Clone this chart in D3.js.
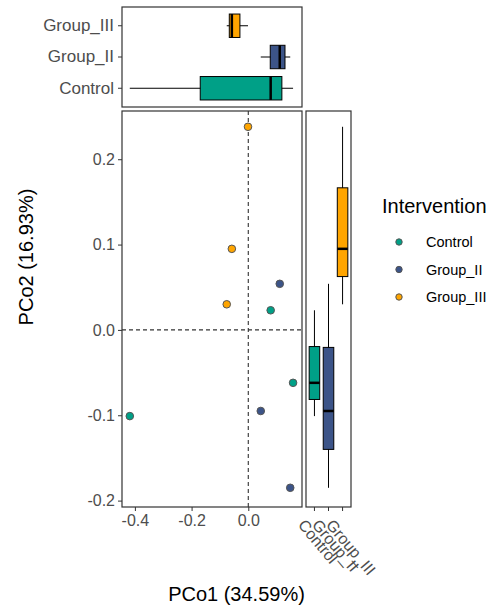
<!DOCTYPE html>
<html>
<head>
<meta charset="utf-8">
<script src="https://cdn.jsdelivr.net/npm/d3@7"></script>
<style>
  body { margin: 0; background: #fff; }
  svg { font-family: "Liberation Sans", Arial, sans-serif; }
</style>
</head>
<body>
<script>
// groups and colours
var groups = ["Control", "Group_II", "Group_III"];
var colors = ["#00A087", "#3C5488", "#FFA500"];

// PCoA coordinates
var sampleGroup = ["Control", "Control", "Control", "Group_II", "Group_II", "Group_II", "Group_III", "Group_III", "Group_III"];
var pco1 = [-0.418, 0.079, 0.158, 0.044, 0.111, 0.148, -0.001, -0.058, -0.076];
var pco2 = [-0.101, 0.023, -0.062, -0.095, 0.054, -0.185, 0.238, 0.095, 0.030];

var xTicks = [-0.4, -0.2, 0.0];
var yTicks = [-0.2, -0.1, 0.0, 0.1, 0.2];

var data = sampleGroup.map(function(g, i) { return {group: g, x: pco1[i], y: pco2[i]}; });

var color = d3.scaleOrdinal().domain(groups).range(colors);

var svg = d3.select("body").append("svg")
    .attr("width", 497)
    .attr("height", 610);

// panel geometry
var main = {left: 122, right: 302, top: 111, bottom: 507};
var topP = {left: 122, right: 302, top: 7, bottom: 107};
var side = {left: 306, right: 351, top: 111, bottom: 507};

// scales
var x = d3.scaleLinear().domain([-0.4455, 0.1895]).range([main.left, main.right]);
var y = d3.scaleLinear().domain([-0.2075, 0.2565]).range([main.bottom, main.top]);
var yTop = d3.scaleBand().domain(groups.slice().reverse()).range([topP.top, topP.bottom]).paddingOuter(0.1);
var xSide = d3.scaleBand().domain(groups).range([side.left, side.right]).paddingOuter(0.1);

function stats(vals) {
  vals = vals.slice().sort(d3.ascending);
  return {
    min: vals[0], max: vals[vals.length - 1],
    q1: d3.quantile(vals, 0.25), med: d3.quantile(vals, 0.5), q3: d3.quantile(vals, 0.75)
  };
}

var tickColor = "#4D4D4D";
var borderColor = "#333333";

// ---- main scatter panel ----
var gMain = svg.append("g");
gMain.append("line")
    .attr("x1", x(0)).attr("x2", x(0))
    .attr("y1", main.top).attr("y2", main.bottom)
    .attr("stroke", "#333").attr("stroke-dasharray", "4,3").attr("stroke-width", 1.1);
gMain.append("line")
    .attr("x1", main.left).attr("x2", main.right)
    .attr("y1", y(0)).attr("y2", y(0))
    .attr("stroke", "#333").attr("stroke-dasharray", "4,3").attr("stroke-width", 1.1);

gMain.selectAll("circle")
    .data(data)
  .enter().append("circle")
    .attr("cx", function(d) { return x(d.x); })
    .attr("cy", function(d) { return y(d.y); })
    .attr("r", 3.8)
    .attr("fill", function(d) { return color(d.group); })
    .attr("stroke", "#555")
    .attr("stroke-width", 1);

// x axis
var xAxis = svg.append("g")
    .attr("transform", "translate(0," + main.bottom + ")")
    .call(d3.axisBottom(x).tickValues(xTicks).tickSize(4).tickPadding(4).tickFormat(d3.format(".1f")));
// y axis
var yAxis = svg.append("g")
    .attr("transform", "translate(" + main.left + ",0)")
    .call(d3.axisLeft(y).tickValues(yTicks).tickSize(4).tickPadding(3).tickFormat(d3.format(".1f")));

[xAxis, yAxis].forEach(function(a) {
  a.select(".domain").remove();
  a.selectAll("line").attr("stroke", borderColor);
  a.selectAll("text").attr("fill", tickColor).style("font-size", "16px")
      .text(function(d) { return d3.format(".1f")(d).replace("−", "-"); });
});

svg.append("rect")
    .attr("x", main.left).attr("y", main.top)
    .attr("width", main.right - main.left).attr("height", main.bottom - main.top)
    .attr("fill", "none").attr("stroke", borderColor).attr("stroke-width", 1.2);

// ---- top boxplot (PCo1) ----
var gTop = svg.append("g");
groups.forEach(function(g) {
  var s = stats(data.filter(function(d) { return d.group === g; }).map(function(d) { return d.x; }));
  var cy = yTop(g) + yTop.bandwidth() / 2;
  var h = yTop.bandwidth() * 0.75;
  gTop.append("line")
      .attr("x1", x(s.min)).attr("x2", x(s.max)).attr("y1", cy).attr("y2", cy)
      .attr("stroke", "#000").attr("stroke-width", 1);
  gTop.append("rect")
      .attr("x", x(s.q1)).attr("y", cy - h / 2)
      .attr("width", x(s.q3) - x(s.q1)).attr("height", h)
      .attr("fill", color(g)).attr("stroke", "#000").attr("stroke-width", 1);
  gTop.append("line")
      .attr("x1", x(s.med)).attr("x2", x(s.med)).attr("y1", cy - h / 2).attr("y2", cy + h / 2)
      .attr("stroke", "#000").attr("stroke-width", 2.5);
});
var topAxis = svg.append("g")
    .attr("transform", "translate(" + topP.left + ",0)")
    .call(d3.axisLeft(yTop).tickSize(4).tickPadding(4));
topAxis.select(".domain").remove();
topAxis.selectAll("line").attr("stroke", borderColor);
topAxis.selectAll("text").attr("fill", tickColor).style("font-size", "17px");
svg.append("rect")
    .attr("x", topP.left).attr("y", topP.top)
    .attr("width", topP.right - topP.left).attr("height", topP.bottom - topP.top)
    .attr("fill", "none").attr("stroke", borderColor).attr("stroke-width", 1.2);

// ---- side boxplot (PCo2) ----
var gSide = svg.append("g");
groups.forEach(function(g) {
  var s = stats(data.filter(function(d) { return d.group === g; }).map(function(d) { return d.y; }));
  var cx = xSide(g) + xSide.bandwidth() / 2;
  var w = xSide.bandwidth() * 0.75;
  gSide.append("line")
      .attr("x1", cx).attr("x2", cx).attr("y1", y(s.min)).attr("y2", y(s.max))
      .attr("stroke", "#000").attr("stroke-width", 1);
  gSide.append("rect")
      .attr("x", cx - w / 2).attr("y", y(s.q3))
      .attr("width", w).attr("height", y(s.q1) - y(s.q3))
      .attr("fill", color(g)).attr("stroke", "#000").attr("stroke-width", 1);
  gSide.append("line")
      .attr("x1", cx - w / 2).attr("x2", cx + w / 2).attr("y1", y(s.med)).attr("y2", y(s.med))
      .attr("stroke", "#000").attr("stroke-width", 2.5);
});
var sideAxis = svg.append("g")
    .attr("transform", "translate(0," + side.bottom + ")")
    .call(d3.axisBottom(xSide).tickSize(4).tickPadding(0));
sideAxis.select(".domain").remove();
sideAxis.selectAll("line").attr("stroke", borderColor);
sideAxis.selectAll("text")
    .attr("fill", tickColor).style("font-size", "16px")
    .attr("text-anchor", "start")
    .attr("dy", "0.75em")
    .attr("transform", "translate(-5,8) rotate(50)");
svg.append("rect")
    .attr("x", side.left).attr("y", side.top)
    .attr("width", side.right - side.left).attr("height", side.bottom - side.top)
    .attr("fill", "none").attr("stroke", borderColor).attr("stroke-width", 1.2);

// axis titles
svg.append("text")
    .attr("x", (main.left + side.right) / 2)
    .attr("y", 601)
    .attr("text-anchor", "middle")
    .style("font-size", "20px")
    .text("PCo1 (34.59%)");
svg.append("text")
    .attr("transform", "translate(33," + (topP.top + main.bottom) / 2 + ") rotate(-90)")
    .attr("text-anchor", "middle")
    .style("font-size", "20px")
    .text("PCo2 (16.93%)");

// legend
var legendG = svg.append("g");
legendG.append("text")
    .attr("x", 382).attr("y", 213)
    .style("font-size", "20px")
    .text("Intervention");
var legend = legendG.selectAll(".legend")
    .data(groups)
  .enter().append("g")
    .attr("class", "legend")
    .attr("transform", function(d, i) { return "translate(0," + (242 + i * 27.5) + ")"; });
legend.append("circle")
    .attr("cx", 399).attr("cy", 0).attr("r", 3.2)
    .attr("fill", color)
    .attr("stroke", "#555").attr("stroke-width", 1);
legend.append("text")
    .attr("x", 426).attr("y", 0).attr("dy", "0.35em")
    .style("font-size", "14.5px")
    .text(function(d) { return d; });
</script>
</body>
</html>
